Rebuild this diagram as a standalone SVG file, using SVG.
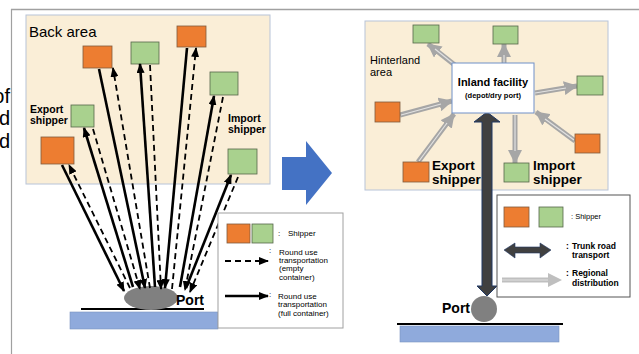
<svg xmlns="http://www.w3.org/2000/svg" width="639" height="354" viewBox="0 0 639 354">
<style>
text{font-family:"Liberation Sans",Arial,sans-serif;fill:#000}
.b{font-weight:bold}
.or{fill:#ED7D31;stroke:#7F5A3E;stroke-width:0.8}
.gr{fill:#A9D18E;stroke:#55664A;stroke-width:0.8}
.sol{stroke:#000;stroke-width:2.6;fill:none;marker-end:url(#ah)}
.das{stroke:#000;stroke-width:1.8;fill:none;stroke-dasharray:6 4;marker-end:url(#ah)}
.ga{stroke:#A6A6A6;stroke-width:5;fill:none;marker-end:url(#gh)}
.gi{stroke:#E2E2E2;stroke-width:1.2;fill:none}
.area{fill:#FAEED7;stroke:#B8C4D8;stroke-width:1}
</style>
<defs>
<marker id="ah" markerUnits="userSpaceOnUse" markerWidth="10" markerHeight="8" refX="9" refY="4" orient="auto"><path d="M0,0 L10,4 L0,8 z" fill="#000"/></marker>
<marker id="gh" markerUnits="userSpaceOnUse" markerWidth="14" markerHeight="14" refX="13" refY="7" orient="auto"><path d="M0,0 L14,7 L0,14 z" fill="#A6A6A6"/></marker>
</defs>
<!-- frame -->
<g id="frame">
<line x1="11" y1="9.5" x2="639" y2="9.5" stroke="#A0A0A0" stroke-width="1.5"/>
<line x1="11.5" y1="9" x2="11.5" y2="354" stroke="#A0A0A0" stroke-width="1.2"/>
<text x="10" y="103" font-size="20" text-anchor="end">of</text>
<text x="10" y="125" font-size="20" text-anchor="end">d</text>
<text x="10" y="148" font-size="20" text-anchor="end">d</text>
</g>
<!-- left panel -->
<g id="back-area">
<rect class="area" x="26" y="15" width="244" height="169"/>
<text x="29" y="37" font-size="15">Back area</text>
</g>
<g id="left-port">
<rect x="70" y="312" width="148" height="17" fill="#8FAADC" stroke="#7A93BF" stroke-width="0.6"/>
<line x1="81" y1="309" x2="204" y2="309" stroke="#000" stroke-width="2"/>
<ellipse cx="151" cy="298" rx="27" ry="12" fill="#808080"/>
<text class="b" x="176" y="305" font-size="14">Port</text>
</g>
<g id="left-shippers">
<rect id="ls-o1" class="or" x="83" y="46" width="29" height="22"/>
<rect id="ls-g1" class="gr" x="131" y="42" width="28" height="22"/>
<rect id="ls-o2" class="or" x="177" y="26" width="29" height="21"/>
<rect id="ls-g2" class="gr" x="210" y="72" width="28" height="23"/>
<rect id="ls-g3" class="gr" x="71" y="105" width="23" height="22"/>
<rect id="ls-o3" class="or" x="41" y="137" width="33" height="27"/>
<rect id="ls-g4" class="gr" x="228" y="149" width="29" height="25"/>
<text class="b" x="30" y="113" font-size="10.5">Export</text>
<text class="b" x="30" y="124" font-size="10.5">shipper</text>
<text class="b" x="228" y="122" font-size="10.5">Import</text>
<text class="b" x="228" y="133" font-size="10.5">shipper</text>
</g>
<g id="left-connectors">
<line class="sol" x1="62" y1="165" x2="124" y2="291"/>
<line class="das" x1="130" y1="288" x2="69" y2="165"/>
<line class="sol" x1="133" y1="287" x2="84" y2="128"/>
<line class="das" x1="93" y1="129" x2="140" y2="289"/>
<line class="sol" x1="99" y1="69" x2="145" y2="288"/>
<line class="das" x1="150" y1="288" x2="113" y2="68"/>
<line class="sol" x1="155" y1="287" x2="140" y2="64"/>
<line class="das" x1="150" y1="65" x2="161" y2="289"/>
<line class="sol" x1="187" y1="48" x2="165" y2="288"/>
<line class="das" x1="172" y1="289" x2="196" y2="48"/>
<line class="sol" x1="180" y1="287" x2="214" y2="96"/>
<line class="das" x1="223" y1="97" x2="185" y2="290"/>
<line class="sol" x1="186" y1="288" x2="231" y2="175"/>
<line class="das" x1="238" y1="177" x2="190" y2="292"/>
</g>
<g id="left-legend">
<rect x="218" y="213" width="125" height="115" fill="#fff" stroke="#A0A0A0" stroke-width="1"/>
<rect class="or" x="227" y="224" width="23" height="19"/>
<rect class="gr" x="252" y="224" width="21" height="19"/>
<text x="278" y="236" font-size="8">:</text>
<text x="288" y="236" font-size="8">Shipper</text>
<line class="das" x1="225" y1="261" x2="268" y2="261"/>
<text x="269" y="253" font-size="8">:</text>
<text x="279" y="255" font-size="8">Round use</text>
<text x="279" y="263" font-size="8">transportation</text>
<text x="279" y="271" font-size="8">(empty</text>
<text x="279" y="280" font-size="8">container)</text>
<line class="sol" x1="225" y1="296" x2="268" y2="296"/>
<text x="269" y="297" font-size="8">:</text>
<text x="278" y="299" font-size="8">Round use</text>
<text x="278" y="307" font-size="8">transportation</text>
<text x="278" y="316" font-size="8">(full container)</text>
</g>
<!-- transition arrow -->
<g id="transition-arrow">
<polygon points="282,157 306,157 306,141 332,173 306,205 306,190 282,190" fill="#4472C4"/>
</g>
<!-- right panel -->
<g id="hinterland-area">
<rect class="area" x="365" y="21" width="243" height="169"/>
<text x="370" y="64" font-size="11">Hinterland</text>
<text x="370" y="76" font-size="11">area</text>
</g>
<g id="right-port">
<rect x="400" y="326" width="159" height="16" fill="#8FAADC" stroke="#7A93BF" stroke-width="0.6"/>
<line x1="397" y1="324" x2="563" y2="324" stroke="#000" stroke-width="2"/>
<circle cx="484" cy="309" r="13" fill="#808080"/>
<text class="b" x="442" y="313" font-size="14">Port</text>
</g>
<g id="right-connectors">
<line class="ga" x1="456" y1="66" x2="428" y2="44"/><line class="gi" x1="455" y1="65" x2="435" y2="49"/>
<line class="ga" x1="504" y1="63" x2="504" y2="44"/><line class="gi" x1="504" y1="63" x2="504" y2="55"/>
<line class="ga" x1="535" y1="93" x2="577" y2="86"/><line class="gi" x1="535" y1="93" x2="566" y2="88"/>
<line class="ga" x1="400" y1="115" x2="452" y2="101"/><line class="gi" x1="401" y1="115" x2="441" y2="104"/>
<line class="ga" x1="418" y1="162" x2="454" y2="114"/><line class="gi" x1="419" y1="161" x2="447" y2="123"/>
<line class="ga" x1="575" y1="141" x2="536" y2="112"/><line class="gi" x1="574" y1="140" x2="545" y2="119"/>
<line class="ga" x1="515" y1="115" x2="515" y2="163"/><line class="gi" x1="515" y1="115" x2="515" y2="151"/>
<polygon id="trunk" points="487,112 500,122 492,122 492,286 497,286 487,296 477,286 482,286 482,122 474,122" fill="#404040" stroke="#203864" stroke-width="1"/>
</g>
<g id="inland-facility">
<rect x="452" y="63" width="82" height="50" fill="#fff" stroke="#6F8FC8" stroke-width="1"/>
<text class="b" x="493" y="86" font-size="11" text-anchor="middle">Inland facility</text>
<text class="b" x="493" y="98" font-size="7.5" text-anchor="middle">(depot/dry port)</text>
</g>
<g id="right-shippers">
<rect class="gr" x="413" y="25" width="26" height="18"/>
<rect class="gr" x="493" y="26" width="25" height="18"/>
<rect class="gr" x="577" y="76" width="26" height="19"/>
<rect class="or" x="375" y="102" width="25" height="20"/>
<rect class="or" x="575" y="134" width="25" height="19"/>
<rect class="or" x="403" y="162" width="26" height="20"/>
<rect class="gr" x="504" y="163" width="25" height="19"/>
<text class="b" x="432" y="170" font-size="13.5">Export</text>
<text class="b" x="432" y="184" font-size="13.5">shipper</text>
<text class="b" x="533" y="170" font-size="13.5">Import</text>
<text class="b" x="533" y="184" font-size="13.5">shipper</text>
</g>
<g id="right-legend">
<rect x="497" y="195" width="133" height="102" fill="#fff" stroke="#555" stroke-width="1"/>
<rect class="or" x="504" y="207" width="25" height="20"/>
<rect class="gr" x="539" y="207" width="24" height="20"/>
<text x="571" y="219" font-size="7.5" fill="#555">: Shipper</text>
<polygon points="504,250 515,243 515,247 540,247 540,243 551,250 540,258 540,253 515,253 515,258" fill="#404040" stroke="#203864" stroke-width="0.6"/>
<text class="b" x="566" y="249" font-size="8.5">:</text>
<text class="b" x="572" y="249" font-size="8.5">Trunk road</text>
<text class="b" x="572" y="258" font-size="8.5">transport</text>
<line x1="502" y1="280" x2="549" y2="280" stroke="#BFBFBF" stroke-width="5"/>
<line x1="502" y1="280" x2="549" y2="280" stroke="#E2E2E2" stroke-width="1.2"/>
<polygon points="548,273 562,280 548,287" fill="#BFBFBF"/>
<text class="b" x="566" y="276" font-size="8.5">:</text>
<text class="b" x="572" y="276" font-size="8.5">Regional</text>
<text class="b" x="572" y="286" font-size="8.5">distribution</text>
</g>
</svg>
